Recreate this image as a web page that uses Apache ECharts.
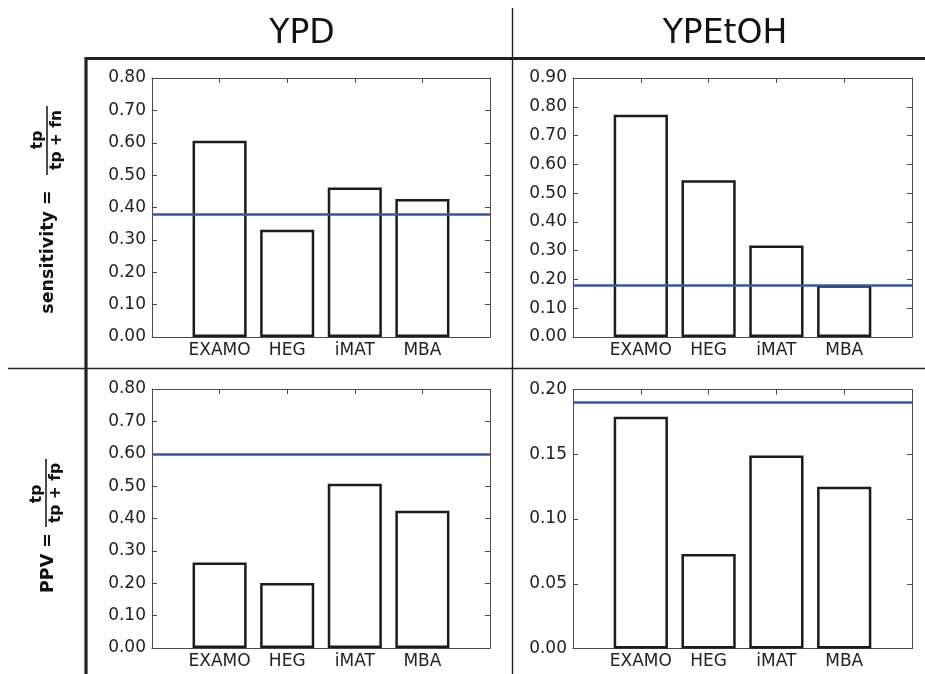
<!DOCTYPE html>
<html>
<head>
<meta charset="utf-8">
<script src="https://cdn.jsdelivr.net/npm/echarts@6/dist/echarts.min.js"></script>
<style>
html,body{margin:0;padding:0;background:#fff;}
#chart{width:925px;height:674px;}
</style>
</head>
<body>
<div id="chart"></div>
<script>
// ---- data ----
const categories = ['EXAMO', 'HEG', 'iMAT', 'MBA'];
const columnTitles = ['YPD', 'YPEtOH'];

const ypdSensitivity = [0.606, 0.331, 0.462, 0.426];
const ypdSensitivityBaseline = 0.379;
const ypetohSensitivity = [0.772, 0.545, 0.318, 0.180];
const ypetohSensitivityBaseline = 0.182;
const ypdPPV = [0.264, 0.201, 0.507, 0.424];
const ypdPPVBaseline = 0.603;
const ypetohPPV = [0.179, 0.073, 0.149, 0.125];
const ypetohPPVBaseline = 0.1905;

const yMaxes = [0.80, 0.90, 0.80, 0.20];
const yIntervals = [0.10, 0.10, 0.10, 0.05];

// ---- layout ----
const panels = [
  {values: ypdSensitivity, base: ypdSensitivityBaseline, left: 152, top: 78, width: 338, height: 259},
  {values: ypetohSensitivity, base: ypetohSensitivityBaseline, left: 573, top: 78, width: 339, height: 259},
  {values: ypdPPV, base: ypdPPVBaseline, left: 152, top: 389, width: 338, height: 259},
  {values: ypetohPPV, base: ypetohPPVBaseline, left: 573, top: 389.5, width: 339, height: 259}
];

const FONT = "'DejaVu Sans', 'Bitstream Vera Sans', sans-serif";
const frameColor = '#4a4a4a';
const textColor = '#222';

const grid = [], xAxis = [], yAxis = [], series = [];
panels.forEach((p, i) => {
  grid.push({left: p.left, top: p.top, width: p.width, height: p.height, containLabel: false});
  const xBase = {
    gridIndex: i, type: 'value', min: 0, max: 5, interval: 1,
    splitLine: {show: false},
    axisLine: {show: true, onZero: false, lineStyle: {color: frameColor, width: 1}},
    axisTick: {show: true, inside: true, length: 5, lineStyle: {color: frameColor}}
  };
  xAxis.push(Object.assign({}, xBase, {
    position: 'bottom',
    axisLabel: {
      show: true, margin: 5, fontSize: 17, fontFamily: FONT, color: textColor,
      formatter: v => (v >= 1 && v <= 4) ? categories[v - 1] : ''
    }
  }));
  xAxis.push(Object.assign({}, xBase, {position: 'top', axisLabel: {show: false}}));
  const yBase = {
    gridIndex: i, type: 'value', min: 0, max: yMaxes[i], interval: yIntervals[i],
    splitLine: {show: false},
    axisLine: {show: true, onZero: false, lineStyle: {color: frameColor, width: 1}},
    axisTick: {show: true, inside: true, length: 5, lineStyle: {color: frameColor}}
  };
  yAxis.push(Object.assign({}, yBase, {
    position: 'left',
    axisLabel: {show: true, margin: 6, fontSize: 17, fontFamily: FONT, color: textColor,
      formatter: v => v.toFixed(2)}
  }));
  yAxis.push(Object.assign({}, yBase, {position: 'right', axisLabel: {show: false}}));

  const barW = 0.8 * p.width / 5;
  series.push({
    type: 'bar',
    xAxisIndex: 2 * i, yAxisIndex: 2 * i,
    barWidth: barW,
    data: p.values.map((v, k) => [k + 1, v]),
    itemStyle: {color: '#ffffff', borderColor: '#1c1c1c', borderWidth: 2.5},
    emphasis: {disabled: true},
    silent: true,
    markLine: {
      silent: true, symbol: 'none', animation: false,
      label: {show: false},
      lineStyle: {color: '#3a55a8', width: 2.5, type: 'solid'},
      data: [{yAxis: p.base}]
    },
    z: 2
  });
});

const lineColor = '#222';
const graphic = [
  // structural lines
  {type: 'line', shape: {x1: 86, y1: 58.5, x2: 925, y2: 58.5}, style: {stroke: lineColor, lineWidth: 3.2}, z: 10},
  {type: 'line', shape: {x1: 86, y1: 57, x2: 86, y2: 674}, style: {stroke: lineColor, lineWidth: 3.2}, z: 10},
  {type: 'line', shape: {x1: 512.5, y1: 8, x2: 512.5, y2: 674}, style: {stroke: lineColor, lineWidth: 1.4}, z: 10},
  {type: 'line', shape: {x1: 8, y1: 368.5, x2: 925, y2: 368.5}, style: {stroke: lineColor, lineWidth: 1.4}, z: 10},
  // column titles
  {type: 'text', x: 302, y: 34, style: {text: columnTitles[0], font: "33px " + FONT, fill: '#111', textAlign: 'center', textVerticalAlign: 'middle'}},
  {type: 'text', x: 725, y: 34, style: {text: columnTitles[1], font: "33px " + FONT, fill: '#111', textAlign: 'center', textVerticalAlign: 'middle'}},
  // row label 1: sensitivity
  {type: 'text', x: 48, y: 252, rotation: Math.PI / 2, style: {text: 'sensitivity =', font: "bold 17.5px " + FONT, fill: '#111', textAlign: 'center', textVerticalAlign: 'middle'}},
  {type: 'text', x: 38, y: 140, rotation: Math.PI / 2, style: {text: 'tp', font: "bold 15.5px " + FONT, fill: '#111', textAlign: 'center', textVerticalAlign: 'middle'}},
  {type: 'line', shape: {x1: 47, y1: 106, x2: 47, y2: 175}, style: {stroke: '#111', lineWidth: 1.5}},
  {type: 'text', x: 57, y: 140, rotation: Math.PI / 2, style: {text: 'tp + fn', font: "bold 15.5px " + FONT, fill: '#111', textAlign: 'center', textVerticalAlign: 'middle'}},
  // row label 2: PPV
  {type: 'text', x: 48, y: 563, rotation: Math.PI / 2, style: {text: 'PPV =', font: "bold 17.5px " + FONT, fill: '#111', textAlign: 'center', textVerticalAlign: 'middle'}},
  {type: 'text', x: 37, y: 494, rotation: Math.PI / 2, style: {text: 'tp', font: "bold 15.5px " + FONT, fill: '#111', textAlign: 'center', textVerticalAlign: 'middle'}},
  {type: 'line', shape: {x1: 46, y1: 459, x2: 46, y2: 527}, style: {stroke: '#111', lineWidth: 1.5}},
  {type: 'text', x: 56, y: 493, rotation: Math.PI / 2, style: {text: 'tp + fp', font: "bold 15.5px " + FONT, fill: '#111', textAlign: 'center', textVerticalAlign: 'middle'}}
];

const chart = echarts.init(document.getElementById('chart'), null, {renderer: 'canvas'});
chart.setOption({
  animation: false,
  backgroundColor: '#ffffff',
  grid, xAxis, yAxis, series, graphic
});
</script>
</body>
</html>
